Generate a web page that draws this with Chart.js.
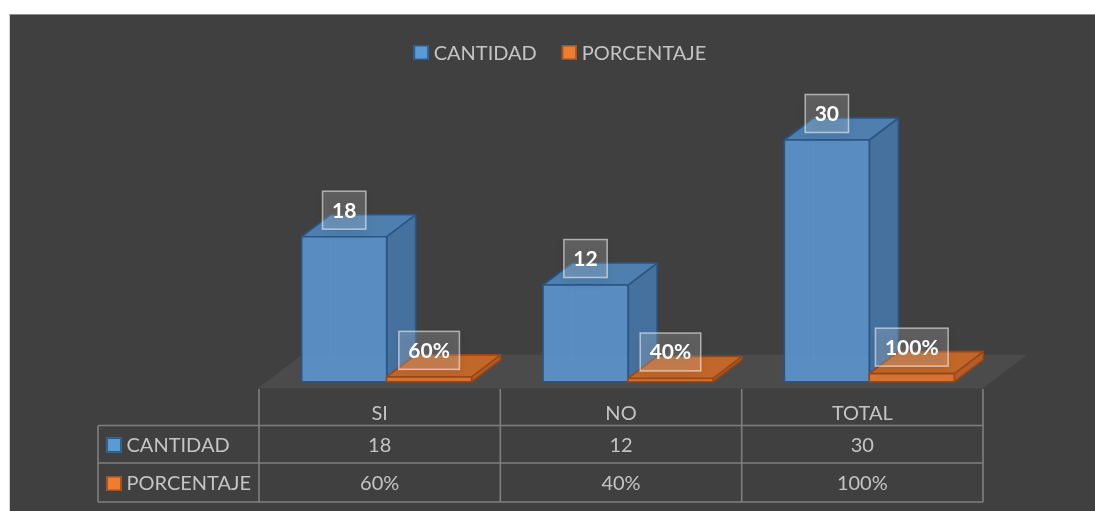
<!DOCTYPE html>
<html>
<head>
<meta charset="utf-8">
<script src="https://cdn.jsdelivr.net/npm/chart.js@4.4.1/dist/chart.umd.min.js"></script>
<style>
  html, body { margin: 0; padding: 0; background: #ffffff; }
  body { width: 1095px; height: 511px; position: relative; overflow: hidden; }
  #panel {
    position: absolute; left: 9px; top: 14px; right: 0; bottom: 0;
    background: #404040;
    border-top: 1px solid #8c8c8c;
    border-left: 1px solid #cfcfcf;
  }
  #wrap { position: absolute; left: 0; top: 0; width: 1095px; height: 511px; }
</style>
</head>
<body>
<div id="panel"></div>
<div id="wrap"><canvas id="c" width="1095" height="511"></canvas></div>
<script>
// Survey results: answers and their share of the total
const categories = ['SI', 'NO', 'TOTAL'];
const seriesNames = ['CANTIDAD', 'PORCENTAJE'];
const cantidad = [18, 12, 30];
const porcentaje = [0.60, 0.40, 1.00];

const pct = v => Math.round(v * 100) + '%';

// face colours for each series: front, side, top, edge, inner edge, swatch
const palette = [
  { front: '#5b92ca', side: '#46719e', top: '#4e7faf', edge: '#2a5685', inner: 'rgba(130,180,230,0.45)', swatch: '#5b9bd5', swatchEdge: '#2e5c8a' },
  { front: '#e17631', side: '#b45d25', top: '#c2672a', edge: '#9a4716', inner: 'rgba(240,150,90,0.45)', swatch: '#ed7d31', swatchEdge: '#a2521c' }
];

const FONT = 'Lato, "Open Sans", sans-serif';
const TEXT = '#c4c4c4';
const GRID = '#7f7f7f';
const DX = 29, DY = -22;      // depth of the 3D boxes
const SHIFT = 7;              // boxes sit slightly right of the category centre

function box3d(ctx, x0, x1, yTop, yBase, c) {
  ctx.save();
  ctx.lineJoin = 'round';
  // hidden back edges seen through the translucent faces
  ctx.strokeStyle = c.inner; ctx.lineWidth = 1;
  ctx.beginPath();
  ctx.moveTo(x0 + DX, yTop + DY); ctx.lineTo(x0 + DX, yBase + DY); ctx.lineTo(x1 + DX, yBase + DY);
  ctx.moveTo(x0, yBase); ctx.lineTo(x0 + DX, yBase + DY);
  ctx.stroke();
  ctx.strokeStyle = c.edge; ctx.lineWidth = 1.6;
  // side
  ctx.fillStyle = c.side;
  ctx.beginPath();
  ctx.moveTo(x1, yTop); ctx.lineTo(x1 + DX, yTop + DY); ctx.lineTo(x1 + DX, yBase + DY); ctx.lineTo(x1, yBase); ctx.closePath();
  ctx.fill(); ctx.stroke();
  // top
  ctx.fillStyle = c.top;
  ctx.beginPath();
  ctx.moveTo(x0, yTop); ctx.lineTo(x0 + DX, yTop + DY); ctx.lineTo(x1 + DX, yTop + DY); ctx.lineTo(x1, yTop); ctx.closePath();
  ctx.fill(); ctx.stroke();
  // front
  ctx.fillStyle = c.front;
  ctx.globalAlpha = 0.93;
  ctx.fillRect(x0, yTop, x1 - x0, yBase - yTop);
  ctx.globalAlpha = 1;
  ctx.strokeRect(x0, yTop, x1 - x0, yBase - yTop);
  ctx.restore();
}

function valueLabel(ctx, text, cx, cy) {
  ctx.save();
  ctx.font = 'bold 21px ' + FONT;
  const w = ctx.measureText(text).width + 19, h = 38;
  ctx.shadowColor = 'rgba(0,0,0,0.45)';
  ctx.shadowBlur = 10; ctx.shadowOffsetY = 4;
  ctx.fillStyle = 'rgba(255,255,255,0.17)';
  ctx.fillRect(cx - w / 2, cy - h / 2, w, h);
  ctx.shadowColor = 'transparent';
  ctx.strokeStyle = 'rgba(255,255,255,0.55)'; ctx.lineWidth = 1.5;
  ctx.strokeRect(cx - w / 2, cy - h / 2, w, h);
  ctx.fillStyle = '#ffffff';
  ctx.textAlign = 'center'; ctx.textBaseline = 'alphabetic';
  ctx.fillText(text, cx, cy + 7.5);
  ctx.restore();
}

function swatch(ctx, x, y, c) {
  ctx.save();
  ctx.fillStyle = c.swatch; ctx.strokeStyle = c.swatchEdge; ctx.lineWidth = 1.5;
  ctx.fillRect(x, y, 15, 15); ctx.strokeRect(x + 0.75, y + 0.75, 13.5, 13.5);
  ctx.restore();
}

const plugin3d = {
  id: 'plugin3d',
  beforeDatasetsDraw(chart) {
    const { ctx, chartArea: a, scales: { y } } = chart;
    const base = y.getPixelForValue(0);
    const fy = base + 6.5, by = base + DY - 5;
    const off = (fy - by) * DX / -DY;
    ctx.save();
    ctx.fillStyle = '#4b4b4b';
    ctx.beginPath();
    ctx.moveTo(a.left - 1, fy); ctx.lineTo(a.right, fy);
    ctx.lineTo(a.right + off, by); ctx.lineTo(a.left - 1 + off, by);
    ctx.closePath(); ctx.fill();
    ctx.restore();
  },
  afterDatasetsDraw(chart) {
    const ctx = chart.ctx;
    const labels = [];
    categories.forEach((_, i) => {
      chart.data.datasets.forEach((ds, d) => {
        const el = chart.getDatasetMeta(d).data[i];
        const x0 = el.x - el.width / 2 + SHIFT, x1 = el.x + el.width / 2 + SHIFT;
        box3d(ctx, x0, x1, el.y, el.base, palette[d]);
        const v = ds.data[i];
        labels.push([d === 1 ? pct(v) : String(v), (x0 + x1) / 2, el.y - 26.5]);
      });
    });
    labels.forEach(l => valueLabel(ctx, l[0], l[1], l[2]));
  },
  afterDraw(chart) {
    const { ctx, chartArea: a, scales: { x } } = chart;
    // legend
    ctx.save();
    ctx.font = '20px ' + FONT;
    ctx.fillStyle = TEXT; ctx.textBaseline = 'alphabetic'; ctx.textAlign = 'left';
    const gap = 25;
    const widths = seriesNames.map(n => 15 + 5 + ctx.measureText(n).width);
    let lx = 560 - (widths[0] + widths[1] + gap) / 2;
    seriesNames.forEach((n, d) => {
      swatch(ctx, lx, 45, palette[d]);
      ctx.fillStyle = TEXT;
      ctx.fillText(n, lx + 20, 59.5);
      lx += widths[d] + gap;
    });

    // data table
    const half = a.width / categories.length / 2;
    const left = a.left - 161;
    const rows = [389, 425.5, 463, 502];
    ctx.strokeStyle = GRID; ctx.lineWidth = 1.6;
    ctx.beginPath();
    for (let r = 1; r < rows.length; r++) { ctx.moveTo(left, rows[r]); ctx.lineTo(a.right, rows[r]); }
    ctx.moveTo(left, rows[1]); ctx.lineTo(left, rows[3]);
    categories.forEach((_, i) => {
      const cx = x.getPixelForValue(i);
      ctx.moveTo(cx - half, rows[0]); ctx.lineTo(cx - half, rows[3]);
      if (i === categories.length - 1) { ctx.moveTo(cx + half, rows[0]); ctx.lineTo(cx + half, rows[3]); }
    });
    ctx.stroke();

    ctx.textAlign = 'center'; ctx.fillStyle = TEXT;
    categories.forEach((c, i) => {
      const cx = x.getPixelForValue(i);
      ctx.fillText(c, cx, 419.5);
      ctx.fillText(String(cantidad[i]), cx, 451.5);
      ctx.fillText(pct(porcentaje[i]), cx, 490);
    });
    ctx.textAlign = 'left';
    [451.5, 490].forEach((by, d) => {
      swatch(ctx, left + 8.5, by - 14, palette[d]);
      ctx.fillStyle = TEXT;
      ctx.fillText(seriesNames[d], left + 28.5, by);
    });
    ctx.restore();
  }
};

new Chart(document.getElementById('c'), {
  type: 'bar',
  data: {
    labels: categories,
    datasets: [
      { label: seriesNames[0], data: cantidad, backgroundColor: 'rgba(0,0,0,0)', borderWidth: 0 },
      { label: seriesNames[1], data: porcentaje, backgroundColor: 'rgba(0,0,0,0)', borderWidth: 0 }
    ]
  },
  options: {
    responsive: false,
    animation: false,
    layout: { padding: { left: 259, right: 112, top: 140, bottom: 129.3 } },
    categoryPercentage: 0.704,
    barPercentage: 1,
    plugins: { legend: { display: false }, tooltip: { enabled: false } },
    scales: {
      x: { display: false },
      y: { display: false, min: 0, max: 30 }
    }
  },
  plugins: [plugin3d]
});
</script>
</body>
</html>
